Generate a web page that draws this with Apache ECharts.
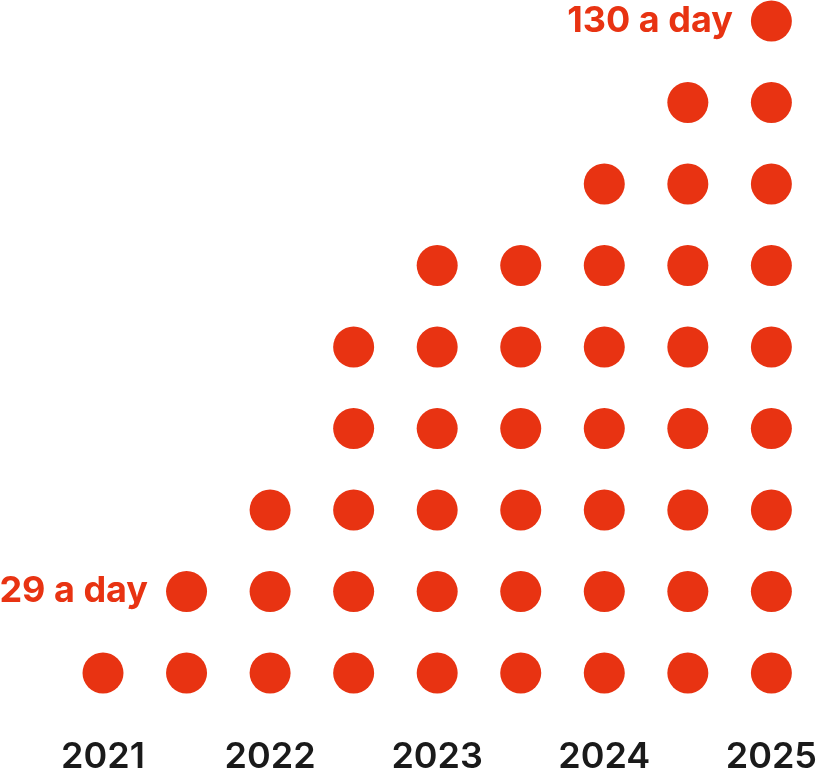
<!DOCTYPE html>
<html><head><meta charset="utf-8">
<script src="https://cdn.jsdelivr.net/npm/echarts@6/dist/echarts.min.js"></script>
<style>html,body{margin:0;padding:0;background:#fff}#c{width:820px;height:775px}</style>
</head><body><div id="c"></div>
<script>
const periods = ['2021 H1','2021 H2','2022 H1','2022 H2','2023 H1','2023 H2','2024 H1','2024 H2','2025 H1'];
const dotCounts = [1, 2, 3, 5, 6, 6, 7, 8, 9];
const tickLabels = ['2021','','2022','','2023','','2024','','2025'];
const annotations = { '2021 H2': '29 a day', '2025 H1': '130 a day' };

const RED = '#e83312';
const points = [];
periods.forEach((p, i) => {
  for (let j = 1; j <= dotCounts[i]; j++) {
    const item = { value: [i, j] };
    if (j === dotCounts[i] && annotations[p]) {
      item.label = { show: true, formatter: annotations[p] };
    }
    points.push(item);
  }
});

const chart = echarts.init(document.getElementById('c'));
chart.setOption({
  animation: false,
  grid: { left: 103, width: 672, top: 21, height: 652.5 },
  xAxis: {
    type: 'category', data: periods, boundaryGap: false,
    axisLine: { show: false }, axisTick: { show: false }, splitLine: { show: false },
    axisLabel: {
      interval: 0, margin: 66,
      formatter: (v, i) => tickLabels[i],
      fontFamily: 'Inter', fontSize: 36, fontWeight: 600, color: '#1a1a1a', lineHeight: 36
    }
  },
  yAxis: { type: 'value', min: 1, max: 9, show: false },
  series: [{
    type: 'scatter', symbol: 'circle', symbolSize: 41,
    itemStyle: { color: RED, opacity: 1 },
    label: { show: false, position: 'left', distance: 18,
      fontFamily: 'Inter', fontSize: 36, fontWeight: 700, color: RED },
    data: points
  }]
});
</script></body></html>
